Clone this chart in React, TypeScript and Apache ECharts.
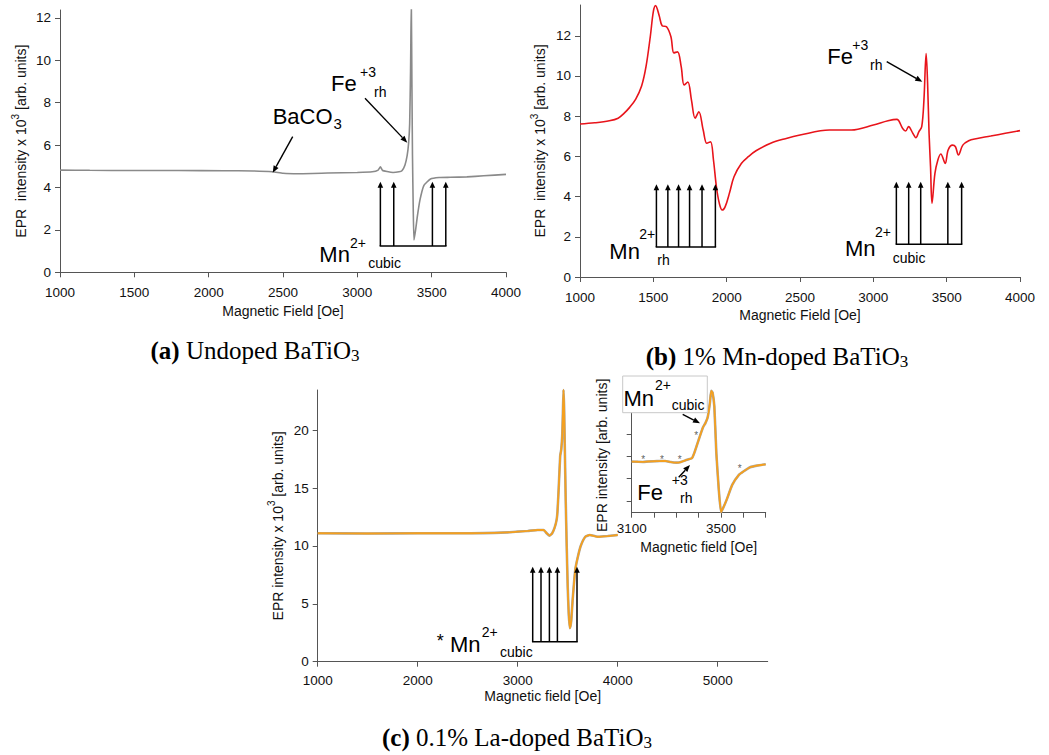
import React, { useEffect, useRef } from "react";
import * as echarts from "echarts";

// ---------- Panel (a): Undoped BaTiO3 ----------
const fieldA = [1000, 1200, 1500, 1800, 2100, 2300, 2430, 2500, 2600, 2800, 3000, 3100, 3140, 3155, 3170, 3200, 3240, 3280, 3300, 3320, 3335, 3345, 3352, 3358, 3363, 3367, 3371, 3376, 3381, 3392, 3403, 3421, 3448, 3492, 3550, 3625, 3737, 3850, 4000];
const intensityA = [4.82, 4.81, 4.8, 4.8, 4.79, 4.78, 4.74, 4.67, 4.65, 4.68, 4.71, 4.74, 4.82, 4.97, 4.8, 4.75, 4.71, 4.74, 4.79, 5.05, 5.5, 6.1, 7.0, 9.5, 12.8, 9.0, 5.5, 3.0, 1.52, 2.0, 2.6, 3.4, 4.1, 4.4, 4.47, 4.48, 4.5, 4.55, 4.62];
const mnCubicA = [3155, 3245, 3505, 3595];
const stickA = { base: 1.24, tip: 4.27 };

// ---------- Panel (b): 1% Mn-doped BaTiO3 ----------
const fieldB = [1000, 1100, 1200, 1260, 1300, 1340, 1380, 1420, 1450, 1480, 1500, 1515, 1540, 1560, 1590, 1620, 1640, 1665, 1690, 1710, 1735, 1760, 1785, 1810, 1840, 1865, 1890, 1910, 1930, 1950, 1970, 1990, 2020, 2050, 2100, 2150, 2200, 2300, 2400, 2500, 2700, 2850, 3000, 3100, 3160, 3200, 3220, 3240, 3270, 3290, 3310, 3330, 3345, 3360, 3370, 3380, 3390, 3400, 3420, 3440, 3460, 3490, 3510, 3540, 3560, 3580, 3610, 3650, 3700, 3800, 3900, 4000];
const intensityB = [7.61, 7.67, 7.77, 7.9, 8.14, 8.45, 8.85, 9.5, 10.46, 12.0, 13.2, 13.5, 13.0, 12.5, 12.45, 11.95, 11.15, 11.2, 10.46, 9.55, 9.7, 8.8, 7.9, 8.22, 7.31, 6.65, 6.73, 5.82, 4.49, 3.66, 3.33, 3.5, 4.2, 4.99, 5.65, 6.0, 6.28, 6.65, 6.88, 7.06, 7.31, 7.31, 7.56, 7.77, 7.84, 7.39, 7.26, 7.48, 7.14, 6.93, 7.22, 7.48, 8.8, 11.12, 9.63, 7.14, 5.49, 3.66, 5.15, 5.82, 6.12, 5.65, 6.32, 6.56, 6.48, 6.07, 6.56, 6.78, 6.88, 7.01, 7.15, 7.28];
const mnRhB = [1521, 1599, 1672, 1747, 1832, 1923];
const stickRhB = { base: 1.49, tip: 4.61 };
const mnCubicB = [3157, 3241, 3323, 3508, 3602];
const stickCubicB = { base: 1.63, tip: 4.74 };

// ---------- Panel (c): 0.1% La-doped BaTiO3 ----------
const fieldC = [1000, 1500, 2000, 2500, 2900, 3000, 3100, 3200, 3260, 3290, 3318, 3345, 3370, 3390, 3398, 3410, 3425, 3435, 3445, 3452, 3458, 3464, 3472, 3480, 3490, 3500, 3510, 3522, 3535, 3550, 3575, 3600, 3630, 3676, 3720, 3800, 3900, 4000];
const intensityC = [11.1, 11.08, 11.1, 11.1, 11.18, 11.24, 11.3, 11.38, 11.38, 11.1, 10.89, 11.1, 11.6, 12.3, 13.0, 15.0, 17.8, 18.3, 19.5, 21.5, 23.5, 22.0, 18.0, 14.0, 10.0, 6.5, 4.2, 2.9, 3.5, 5.4, 7.9, 9.0, 10.0, 10.8, 10.95, 10.8, 10.86, 10.95];
const mnCubicC = [3150, 3233, 3317, 3397, 3593];
const stickC = { base: 1.73, tip: 8.21 };

// ---------- Inset of (c) ----------
const fieldI = [3100, 3125, 3150, 3175, 3200, 3225, 3250, 3275, 3300, 3320, 3340, 3355, 3370, 3380, 3390, 3400, 3410, 3420, 3430, 3440, 3450, 3456, 3462, 3470, 3479, 3490, 3500, 3510, 3525, 3550, 3580, 3600, 3630, 3660, 3700];
const intensityI = [11.08, 11.05, 11.02, 11.1, 11.14, 11.18, 11.2, 11.0, 10.9, 11.0, 11.3, 11.5, 11.7, 12.6, 13.8, 15.0, 16.2, 17.3, 18.0, 19.0, 21.6, 23.8, 23.5, 21.0, 12.6, 6.0, 2.0, 2.8, 4.2, 6.9, 8.7, 9.3, 10.06, 10.36, 10.6];
const starFieldI = [3152, 3236, 3315, 3389, 3584];
const starValI = [11.9, 11.9, 11.9, 16.2, 10.2];

// ---------- Tick values ----------
const xTicksAB = [1000, 1500, 2000, 2500, 3000, 3500, 4000];
const yTicksA = [0, 2, 4, 6, 8, 10, 12];
const yTicksB = [0, 2, 4, 6, 8, 10, 12];
const xTicksC = [1000, 2000, 3000, 4000, 5000];
const yTicksC = [0, 5, 10, 15, 20];
const xTicksI = [3100, 3200, 3300, 3400, 3500, 3600, 3700];
const xLabelsI = [3100, 3500];
const yTicksI = [4, 8, 12, 16];

const FONT = "'Liberation Sans', Arial, sans-serif";
const SERIF = "'Liberation Serif', 'Times New Roman', serif";
const AXIS_COLOR = "#555";

const pairs = (x: number[], y: number[]) => x.map((v, i) => [v, y[i]]);
const stickData = (pos: number[], s: { base: number; tip: number }) =>
  pos.map((p, i) => [p, s.base, s.tip, i === 0 ? 1 : 0, pos[0], pos[pos.length - 1]]);

const stickRender = (_params: any, api: any) => {
  const x = api.value(0);
  const base = api.value(1);
  const tip = api.value(2);
  const first = api.value(3);
  const pb = api.coord([x, base]);
  const pt = api.coord([x, tip]);
  const children: any[] = [
    { type: "line", shape: { x1: pb[0], y1: pb[1], x2: pt[0], y2: pt[1] + 4 }, style: { stroke: "#000", lineWidth: 1.5 } },
    { type: "polygon", shape: { points: [[pt[0], pt[1]], [pt[0] - 2.8, pt[1] + 6], [pt[0] + 2.8, pt[1] + 6]] }, style: { fill: "#000" } },
  ];
  if (first) {
    const p0 = api.coord([api.value(4), base]);
    const p1 = api.coord([api.value(5), base]);
    children.push({ type: "line", shape: { x1: p0[0] - 0.75, y1: p0[1], x2: p1[0] + 0.75, y2: p1[1] }, style: { stroke: "#000", lineWidth: 1.5 } });
  }
  return { type: "group", children };
};

const plain = (v: number) => String(v);

const xAx = (gridIndex: number, min: number, max: number, ticks: number[], labels: number[], name: string, nameGap: number, margin: number) => ({
  type: "value",
  gridIndex,
  min,
  max,
  name,
  nameLocation: "middle",
  nameGap,
  nameTextStyle: { fontSize: 14, fontFamily: FONT, color: "#111" },
  axisLine: { show: true, onZero: false, lineStyle: { color: AXIS_COLOR, width: 1 } },
  axisTick: { show: true, length: 5, customValues: ticks, lineStyle: { color: AXIS_COLOR } },
  axisLabel: { show: true, customValues: labels, formatter: plain, fontSize: 13.5, fontFamily: FONT, color: "#111", margin },
  splitLine: { show: false },
});

const supRich = {
  sup: { fontSize: 10, fontFamily: FONT, color: "#111", verticalAlign: "top", lineHeight: 22 },
};

const yAx = (gridIndex: number, min: number, max: number, ticks: number[], showLabels: boolean, name: string, nameGap: number, padding: number[] = [0, 0, 0, 0]) => ({
  type: "value",
  gridIndex,
  min,
  max,
  name,
  nameLocation: "middle",
  nameGap,
  nameTextStyle: { fontSize: 14, fontFamily: FONT, color: "#111", lineHeight: 22, padding, rich: supRich },
  axisLine: { show: true, onZero: false, lineStyle: { color: AXIS_COLOR, width: 1 } },
  axisTick: { show: true, length: 5, customValues: ticks, lineStyle: { color: AXIS_COLOR } },
  axisLabel: { show: showLabels, customValues: ticks, formatter: plain, fontSize: 13.5, fontFamily: FONT, color: "#111", margin: 9 },
  splitLine: { show: false },
});

const lineSeries = (axis: number, data: number[][], color: string, width: number, smooth: number, z = 2) => ({
  type: "line",
  xAxisIndex: axis,
  yAxisIndex: axis,
  data,
  symbol: "none",
  showSymbol: false,
  smooth,
  lineStyle: { color, width },
  silent: true,
  z,
});

const stickSeries = (axis: number, pos: number[], s: { base: number; tip: number }) => ({
  type: "custom",
  xAxisIndex: axis,
  yAxisIndex: axis,
  data: stickData(pos, s),
  encode: { x: 0, y: 2 },
  renderItem: stickRender,
  silent: true,
  clip: false,
  z: 5,
});

// ---------- annotation helpers ----------
const txt = (text: string, x: number, y: number, size: number, font = FONT) => ({
  type: "text",
  x,
  y,
  z: 100,
  silent: true,
  style: {
    text,
    fontSize: size,
    fontFamily: font,
    fill: "#000",
    align: "left",
    verticalAlign: "middle",
    textAlign: "left",
    textVerticalAlign: "middle",
  },
});

const arrow = (x1: number, y1: number, x2: number, y2: number) => {
  const a = Math.atan2(y2 - y1, x2 - x1);
  const L = 7;
  const W = 2.8;
  const bx = x2 - L * Math.cos(a);
  const by = y2 - L * Math.sin(a);
  const px = -Math.sin(a) * W;
  const py = Math.cos(a) * W;
  return [
    { type: "line", z: 100, silent: true, shape: { x1, y1, x2: bx, y2: by }, style: { stroke: "#000", lineWidth: 1.4 } },
    { type: "polygon", z: 100, silent: true, shape: { points: [[x2, y2], [bx + px, by + py], [bx - px, by - py]] }, style: { fill: "#000" } },
  ];
};

const caption = (text: string, x: number, y: number) => ({
  type: "text",
  x,
  y,
  z: 100,
  silent: true,
  style: {
    text,
    fontSize: 25,
    fontFamily: SERIF,
    fill: "#000",
    lineHeight: 28,
    align: "center",
    verticalAlign: "middle",
    textAlign: "center",
    textVerticalAlign: "middle",
    rich: {
      b: { fontSize: 25, fontFamily: SERIF, fontWeight: "bold", fill: "#000", lineHeight: 28 },
      s: { fontSize: 17, fontFamily: SERIF, fill: "#000", verticalAlign: "bottom", lineHeight: 28 },
    },
  },
});

const graphicElements: any[] = [
  // panel (a)
  txt("BaCO", 272.7, 116.7, 22),
  txt("3", 333.5, 123, 15),
  ...arrow(292.7, 136.7, 272.7, 172.7),
  txt("Fe", 331, 83.8, 22),
  txt("+3", 360, 72.3, 14),
  txt("rh", 374, 92.3, 14),
  ...arrow(365, 98.3, 407.3, 142.7),
  txt("Mn", 319.3, 254.4, 22),
  txt("2+", 350, 243.3, 14),
  txt("cubic", 368.3, 263.3, 14),
  // panel (b)
  txt("Fe", 827.3, 56.1, 22),
  txt("+3", 852.3, 45, 14),
  txt("rh", 870, 65, 14),
  ...arrow(886.7, 61.7, 922.3, 81.7),
  txt("Mn", 609.3, 251.4, 22),
  txt("2+", 639.3, 234.3, 14),
  txt("rh", 657.3, 260, 14),
  txt("Mn", 845, 248.8, 22),
  txt("2+", 875, 232.3, 14),
  txt("cubic", 892.7, 258.3, 14),
  // panel (c)
  txt("*", 436.7, 641, 18),
  txt("Mn", 450, 644.8, 22),
  txt("2+", 481.7, 631.7, 14),
  txt("cubic", 500, 652.3, 14),
  // inset
  {
    type: "rect",
    z: 99,
    silent: true,
    shape: { x: 622.7, y: 376, width: 84.6, height: 36.7 },
    style: { fill: "#fff", stroke: "#c8c8c8", lineWidth: 1 },
  },
  txt("Mn", 623.5, 398.1, 22),
  txt("2+", 655, 385, 14),
  txt("cubic", 671.7, 405, 14),
  ...arrow(682.7, 414.3, 700, 423.3),
  txt("Fe", 637.3, 492.1, 22),
  txt("+3", 671.7, 480, 14),
  txt("rh", 680, 498.3, 14),
  ...arrow(678.7, 477.3, 690, 465),
  // captions
  caption("{b|(a)} Undoped BaTiO{s|3}", 255, 350),
  caption("{b|(b)} 1% Mn-doped BaTiO{s|3}", 777, 356),
  caption("{b|(c)} 0.1% La-doped BaTiO{s|3}", 517, 737),
];

const option: any = {
  animation: false,
  backgroundColor: "#fff",
  textStyle: { fontFamily: FONT },
  grid: [
    { left: 60, top: 10, width: 446, height: 262.3 },
    { left: 580, top: 5, width: 440, height: 272 },
    { left: 317.7, top: 390, width: 450, height: 271.7 },
    { left: 631.7, top: 378, width: 134, height: 134.7 },
  ],
  xAxis: [
    xAx(0, 1000, 4000, xTicksAB, xTicksAB, "Magnetic Field [Oe]", 32, 13),
    xAx(1, 1000, 4000, xTicksAB, xTicksAB, "Magnetic Field [Oe]", 31, 13),
    xAx(2, 1000, 5500, xTicksC, xTicksC, "Magnetic field [Oe]", 26, 12),
    xAx(3, 3100, 3700, xTicksI, xLabelsI, "Magnetic field [Oe]", 27, 9),
  ],
  yAxis: [
    yAx(0, 0, 12.37, yTicksA, true, "EPR  intensity x 10{sup|3} [arb. units]", 24),
    yAx(1, 0, 13.53, yTicksB, true, "EPR  intensity x 10{sup|3} [arb. units]", 29),
    yAx(2, 0, 23.48, yTicksC, true, "EPR intensity x 10{sup|3} [arb. units]", 29),
    yAx(3, 1.9, 26.1, yTicksI, false, "EPR intensity [arb. units]", 19, [0, 20, 0, 0]),
  ],
  series: [
    lineSeries(0, pairs(fieldA, intensityA), "#8a8a8a", 1.6, 0.15),
    stickSeries(0, mnCubicA, stickA),
    lineSeries(1, pairs(fieldB, intensityB), "#e8141b", 1.6, 0.35),
    stickSeries(1, mnRhB, stickRhB),
    stickSeries(1, mnCubicB, stickCubicB),
    lineSeries(2, pairs(fieldC, intensityC), "#a8a8a8", 2.6, 0.15),
    lineSeries(2, pairs(fieldC, intensityC), "#f5a01e", 1.8, 0.15, 3),
    stickSeries(2, mnCubicC, stickC),
    lineSeries(3, pairs(fieldI, intensityI), "#a8a8a8", 2.6, 0.15),
    lineSeries(3, pairs(fieldI, intensityI), "#f5a01e", 1.8, 0.15, 3),
    {
      type: "scatter",
      xAxisIndex: 3,
      yAxisIndex: 3,
      data: pairs(starFieldI, starValI),
      symbolSize: 1,
      itemStyle: { color: "rgba(0,0,0,0)" },
      label: { show: true, position: "inside", formatter: "*", fontSize: 10, fontFamily: FONT, color: "#333", offset: [0, 2] },
      silent: true,
      z: 6,
    },
  ],
  graphic: { elements: graphicElements },
};

export default function App() {
  const ref = useRef<HTMLDivElement>(null);
  useEffect(() => {
    const chart = echarts.init(ref.current as HTMLDivElement, null, { renderer: "svg" });
    chart.setOption(option);
    return () => chart.dispose();
  }, []);
  return (
    <div
      ref={ref}
      style={{ position: "fixed", left: 0, top: 0, width: 1049, height: 755, background: "#fff" }}
    />
  );
}
